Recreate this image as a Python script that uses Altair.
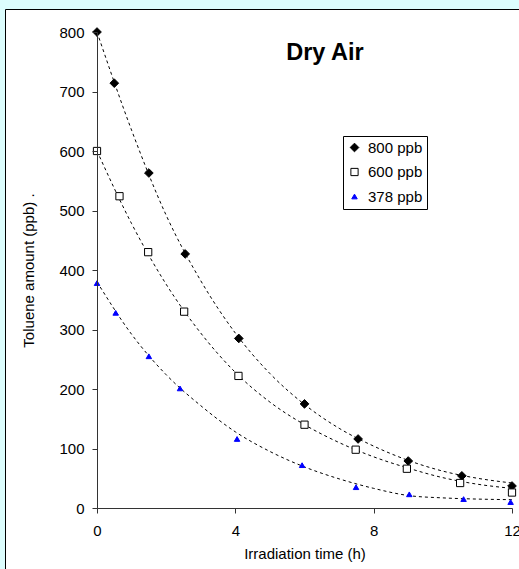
import altair as alt
import pandas as pd

# ---- data ----
series_names = ["800 ppb", "600 ppb", "378 ppb"]

t_800 = [0, 0.5, 1.5, 2.55, 4.1, 6.0, 7.55, 9.0, 10.55, 12.0]
v_800 = [800, 714, 563, 427, 285, 175, 116, 79, 54, 37]

t_600 = [0, 0.65, 1.48, 2.52, 4.09, 6.0, 7.48, 8.96, 10.5, 12.0]
v_600 = [600, 524, 430, 330, 222, 140, 98, 66, 42, 26]

t_378 = [0, 0.54, 1.5, 2.4, 4.05, 5.93, 7.49, 9.03, 10.6, 11.96]
v_378 = [378, 328, 255, 201, 116, 72, 35, 23, 15, 10]

# fitted (dashed) curves, read at whole hours
curve_t = [0, 1, 2, 3, 4, 5, 6, 7, 8, 9, 10, 11, 12]
curve_800 = [800, 635, 492, 382, 294, 226, 174, 134, 104, 80, 62, 50, 42]
curve_600 = [600, 478, 376, 294, 228, 178, 140, 110, 86, 67, 51, 40, 33]
curve_378 = [380, 292, 224, 172, 128, 95, 69, 49, 33, 21, 17, 15, 14]

x_ticks = [0, 4, 8, 12]
y_ticks = [0, 100, 200, 300, 400, 500, 600, 700, 800]

# ---- tables ----
pts = pd.concat([
    pd.DataFrame({"t": t_800, "v": v_800, "series": series_names[0]}),
    pd.DataFrame({"t": t_600, "v": v_600, "series": series_names[1]}),
    pd.DataFrame({"t": t_378, "v": v_378, "series": series_names[2]}),
])
curves = pd.concat([
    pd.DataFrame({"t": curve_t, "v": curve_800, "series": series_names[0]}),
    pd.DataFrame({"t": curve_t, "v": curve_600, "series": series_names[1]}),
    pd.DataFrame({"t": curve_t, "v": curve_378, "series": series_names[2]}),
])

FONT = "Liberation Sans"
W, H = 415, 476

xscale = alt.Scale(domain=[0, 12], nice=False, zero=False)
yscale = alt.Scale(domain=[0, 800], nice=False)

x_enc = alt.X("t:Q", scale=xscale, axis=alt.Axis(
    values=x_ticks, title="Irradiation time (h)", grid=False, zindex=1,
    domainColor="#333333", tickColor="#333333", tickSize=5,
    labelFont=FONT, labelFontSize=15, labelColor="black", labelPadding=10,
    labelFlush=False, titleFont=FONT, titleFontSize=15, titleFontWeight="normal",
    titleColor="black", titleBaseline="alphabetic", titleY=50))
y_enc = alt.Y("v:Q", scale=yscale, axis=alt.Axis(
    values=y_ticks, title="Toluene amount (ppb)  .", grid=False, zindex=1,
    domainColor="#333333", tickColor="#333333", tickSize=5,
    labelFont=FONT, labelFontSize=15, labelColor="black", labelPadding=8,
    titleFont=FONT, titleFontSize=15, titleFontWeight="normal", titleColor="black",
    titleAngle=270, titleBaseline="alphabetic", titleAlign="center",
    titleX=-64, titleY=238))

frame = alt.Chart(pd.DataFrame({"a": [0]})).mark_rect(
    fill="white", stroke="black", strokeWidth=1
).encode(
    x=alt.value(-91.5), x2=alt.value(W + 40),
    y=alt.value(-22.5), y2=alt.value(H + 80),
)

lines = alt.Chart(curves).mark_line(
    color="black", strokeWidth=1, strokeDash=[3, 3], interpolate="monotone"
).encode(x=x_enc, y=y_enc, detail="series:N")

legend = alt.Legend(
    title=None, orient="none", legendX=246, legendY=104,
    strokeColor="black", fillColor="white", padding=4,
    labelFont=FONT, labelFontSize=15, labelColor="black", labelOffset=6,
    rowPadding=8.5, symbolOpacity=1, symbolStrokeWidth=1,
)
sdomain = series_names
points = alt.Chart(pts).mark_point(opacity=1, strokeWidth=1).encode(
    x=x_enc, y=y_enc,
    shape=alt.Shape("series:N", scale=alt.Scale(domain=sdomain, range=["diamond", "square", "triangle-up"]), legend=legend),
    fill=alt.Fill("series:N", scale=alt.Scale(domain=sdomain, range=["black", "white", "#0000ff"]), legend=legend),
    stroke=alt.Stroke("series:N", scale=alt.Scale(domain=sdomain, range=["black", "black", "#0000ff"]), legend=legend),
    size=alt.Size("series:N", scale=alt.Scale(domain=sdomain, range=[75, 30, 55]), legend=legend),
)

title = alt.Chart(pd.DataFrame({"label": ["Dry Air"]})).mark_text(
    font=FONT, fontSize=23.5, fontWeight="bold", color="black",
    align="center", baseline="alphabetic"
).encode(x=alt.value(228), y=alt.value(28), text="label:N")

chart = alt.layer(frame, lines, points, title).properties(
    width=W, height=H,
    padding={"left": 97, "top": 32, "right": 7, "bottom": 61},
    autosize=alt.AutoSizeParams(type="none"),
    background="#dcfdfd",
).configure_view(strokeOpacity=0).configure_axis(domainWidth=1, tickWidth=1)

chart.save("out.html", embed_options={"renderer": "svg", "actions": False})
